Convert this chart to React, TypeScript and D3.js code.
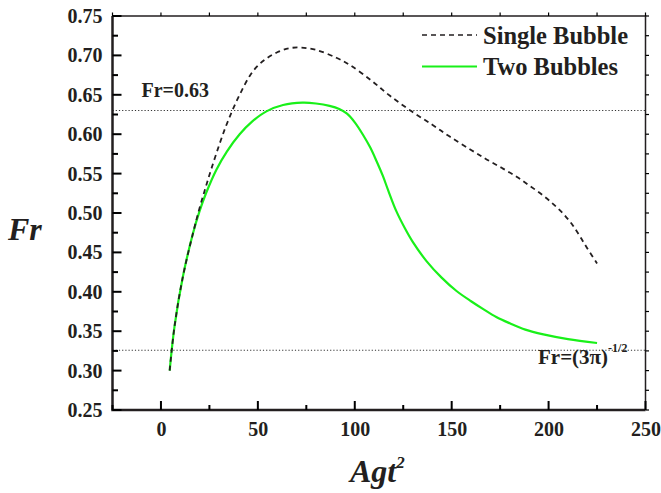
import React, { useEffect, useRef } from "react";
import * as d3 from "d3";

const singleX = [4.5, 7, 11.3, 16.5, 20, 23, 26, 30, 33.5, 37, 41, 45.8, 50, 54.4, 60, 66, 72, 80, 90.5, 97.4, 108.6, 118, 129.3, 140, 149, 160, 168, 176, 183.5, 190, 197.3, 203, 207.6, 212, 216, 220, 225];
const singleY = [0.300, 0.356, 0.419, 0.474, 0.507, 0.532, 0.556, 0.586, 0.610, 0.631, 0.652, 0.674, 0.687, 0.696, 0.704, 0.709, 0.710, 0.707, 0.697, 0.688, 0.668, 0.649, 0.629, 0.612, 0.597, 0.580, 0.568, 0.557, 0.546, 0.535, 0.522, 0.510, 0.499, 0.486, 0.471, 0.455, 0.436];

const twoX = [4.5, 7, 11.3, 16.5, 20, 23.4, 28.6, 34, 40.6, 47, 54.4, 63, 73, 80, 87, 92, 96, 100, 104.3, 108, 111.2, 114.5, 117.2, 121.5, 126, 130, 137, 144.8, 152.5, 160, 166.3, 173, 180, 188, 197.3, 210, 225];
const twoY = [0.300, 0.356, 0.419, 0.474, 0.503, 0.526, 0.555, 0.578, 0.600, 0.616, 0.629, 0.637, 0.640, 0.639, 0.636, 0.632, 0.626, 0.615, 0.599, 0.583, 0.566, 0.547, 0.529, 0.502, 0.480, 0.463, 0.439, 0.418, 0.401, 0.388, 0.378, 0.368, 0.360, 0.352, 0.346, 0.340, 0.335];

const xMajorTicks = [0, 50, 100, 150, 200, 250];
const xMinorTicks = [-25, 25, 75, 125, 175, 225];
const yMajorTicks = [0.25, 0.30, 0.35, 0.40, 0.45, 0.50, 0.55, 0.60, 0.65, 0.70, 0.75];
const yMinorTicks = [0.275, 0.325, 0.375, 0.425, 0.475, 0.525, 0.575, 0.625, 0.675, 0.725];

const refLines = [0.63, 1 / Math.sqrt(3 * Math.PI)];
const seriesNames = ["Single Bubble", "Two Bubbles"];

const W = 661, H = 493;
const L = 112.5, R = 645.5, T = 16, B = 410;
const INK = "#231f20";
const GREEN = "#19f019";
const FONT = "'Liberation Serif', 'Times New Roman', serif";

const x = d3.scaleLinear().domain([-25, 250]).range([L, R]);
const y = d3.scaleLinear().domain([0.25, 0.75]).range([B, T]);

export default function App() {
  const axRef = useRef<SVGGElement | null>(null);
  useEffect(() => {
    const g = d3.select(axRef.current);
    g.selectAll("*").remove();
    const textStyle = (s: any) => {
      s.select(".domain").remove();
      s.selectAll(".tick line").remove();
      s.selectAll(".tick text").attr("fill", INK).attr("font-family", FONT).attr("font-weight", "bold").attr("font-size", 20);
    };
    g.append("g").attr("transform", `translate(0,${B})`)
      .call(d3.axisBottom(x).tickValues(xMajorTicks).tickSize(0).tickPadding(12).tickFormat(d3.format("d")))
      .call(textStyle);
    g.append("g").attr("transform", `translate(${L},0)`)
      .call(d3.axisLeft(y).tickValues(yMajorTicks).tickSize(0).tickPadding(10).tickFormat(d3.format(".2f")))
      .call(textStyle);
  }, []);

  const line = d3.line<[number, number]>().x((d) => x(d[0])).y((d) => y(d[1])).curve(d3.curveCatmullRom.alpha(0.5));
  const two = twoX.map((v, i) => [v, twoY[i]] as [number, number]);
  const single = singleX.map((v, i) => [v, singleY[i]] as [number, number]);

  const TICK = "#000";
  const ticks: React.ReactNode[] = [];
  xMajorTicks.forEach((v) => ticks.push(<rect key={"xb" + v} x={x(v) - 1} y={B - 9} width={2} height={9} fill={TICK} />));
  xMinorTicks.forEach((v) => ticks.push(<rect key={"xbm" + v} x={x(v) - 1} y={B - 5} width={2} height={5} fill={TICK} />));
  yMajorTicks.forEach((v) => ticks.push(<rect key={"yl" + v} x={L} y={y(v) - 1} width={9} height={2} fill={TICK} />));
  yMinorTicks.forEach((v) => ticks.push(<rect key={"ylm" + v} x={L} y={y(v) - 1} width={5.5} height={2} fill={TICK} />));
  [...xMajorTicks, ...xMinorTicks].forEach((v) => ticks.push(<rect key={"xt" + v} x={x(v) - 0.6} y={T - 3.5} width={1.2} height={3.5} fill={TICK} />));
  [...yMajorTicks, ...yMinorTicks].forEach((v) => ticks.push(<rect key={"yr" + v} x={R} y={y(v) - 0.6} width={3.5} height={1.2} fill={TICK} />));

  const bold = { fontFamily: FONT, fontWeight: "bold" as const, fill: INK };

  return (
    <svg width={W} height={H} style={{ position: "absolute", left: 0, top: 0, background: "#fff" }}>
      <rect x={0} y={0} width={W} height={H} fill="#fff" />
      {refLines.map((v, i) => (
        <line key={"ref" + i} x1={L} x2={R} y1={y(v)} y2={y(v)} stroke="#333" strokeWidth={1.1} strokeDasharray="1.2,2" />
      ))}
      <path d={line(two) || ""} fill="none" stroke={GREEN} strokeWidth={2.2} />
      <path d={line(single) || ""} fill="none" stroke={INK} strokeWidth={1.8} strokeDasharray="5,4" />
      <path d={`M${L},${T}H${R}V${B}`} fill="none" stroke={INK} strokeWidth={1.5} />
      <path d={`M${L},${T}V${B}H${R}`} fill="none" stroke={INK} strokeWidth={2.5} />
      <g>{ticks}</g>
      <g ref={axRef} />
      {seriesNames.map((name, i) => {
        const ly = 35 + i * 31.5;
        return (
          <g key={name}>
            <line x1={422} x2={477} y1={ly} y2={ly} stroke={i === 0 ? INK : GREEN} strokeWidth={i === 0 ? 1.4 : 2.2} strokeDasharray={i === 0 ? "5,4" : undefined} />
            <text x={483} y={ly + 8.5} fontSize={24.5} {...bold}>{name}</text>
          </g>
        );
      })}
      <text x={141.5} y={97} fontSize={20} {...bold}>Fr=0.63</text>
      <text x={538} y={364} fontSize={21} {...bold}>
        <tspan>Fr=(3π)</tspan>
        <tspan dy={-12} fontSize={12}>-1/2</tspan>
      </text>
      <text x={8} y={240} fontSize={32} fontStyle="italic" {...bold}>Fr</text>
      <text x={350} y={482} fontSize={32} fontStyle="italic" {...bold}>
        <tspan>Agt</tspan>
        <tspan dy={-14} fontSize={17}>2</tspan>
      </text>
    </svg>
  );
}
